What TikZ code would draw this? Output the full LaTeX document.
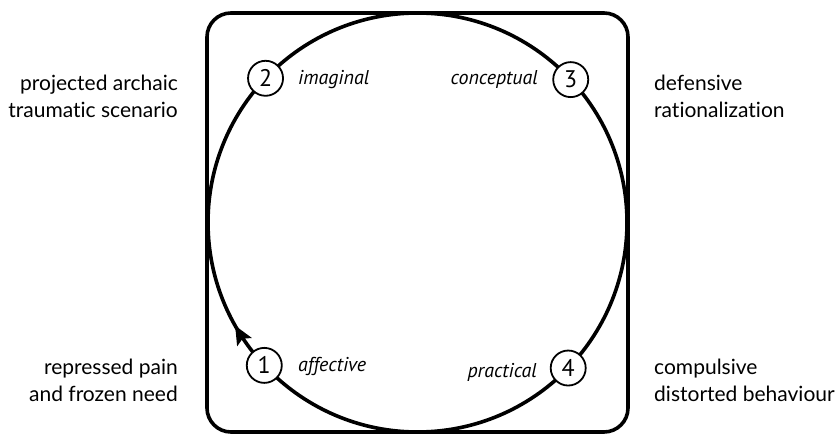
\documentclass[tikz,border=0pt]{standalone}
\usepackage{fontspec}
\setmainfont{Lato}[Ligatures={NoCommon}]
\newfontfamily\innerfont{PT Sans}
\usetikzlibrary{calc,arrows.meta}
\tikzset{
  side/.style={font=\fontsize{21}{27}\selectfont, inner sep=0pt},
  inner/.style={font=\innerfont\itshape\fontsize{20}{22}\selectfont, inner sep=0pt},
  num/.style={circle, draw, line width=1.8pt, fill=white, minimum size=35pt, inner sep=0pt, font=\innerfont\fontsize{24}{24}\selectfont},
  thick line/.style={line width=3.6pt},
  tiphead/.style={fill=black}
}
\begin{document}
\begin{tikzpicture}[x=1pt,y=1pt]
\useasboundingbox (0,0) rectangle (837,434);
\coordinate (C) at (417.5,211.5);
\draw[thick line, rounded corners=24pt] (207,2) rectangle (628,421);
\draw[thick line] (C) circle[radius=209.5];
\coordinate (a1) at ($(C)+(209.5:209.5)$);
\fill[tiphead, shift={(a1)}, rotate=119.5] (0,0) -- (-19,8.5) -- (-15,0) -- (-19,-8.5) -- cycle;
\node[num] (n1) at ($(C)+(223:209.5)$) {1};
\node[num] (n2) at ($(C)+(136.5:209.5)$) {2};
\node[num] (n3) at ($(C)+(43:209.5)$) {3};
\node[num] (n4) at ($(C)+(-44:209.5)$) {4};
\node[inner, anchor=west] (l1) at (298,68) {affective};
\node[inner, anchor=west] (l2) at (298,354) {imaginal};
\node[inner, anchor=east] (l3) at (538,354) {conceptual};
\node[inner, anchor=east] (l4) at (537,62) {practical};
\node[side, align=right, anchor=east] (s2) at (178,338) {projected archaic\\traumatic scenario};
\node[side, align=right, anchor=east] (s1) at (178,54) {repressed pain\\and frozen need};
\node[side, align=left, anchor=west] (s3) at (654,338) {defensive\\rationalization};
\node[side, align=left, anchor=west] (s4) at (654,54) {compulsive\\distorted behaviour};
\end{tikzpicture}
\end{document}
